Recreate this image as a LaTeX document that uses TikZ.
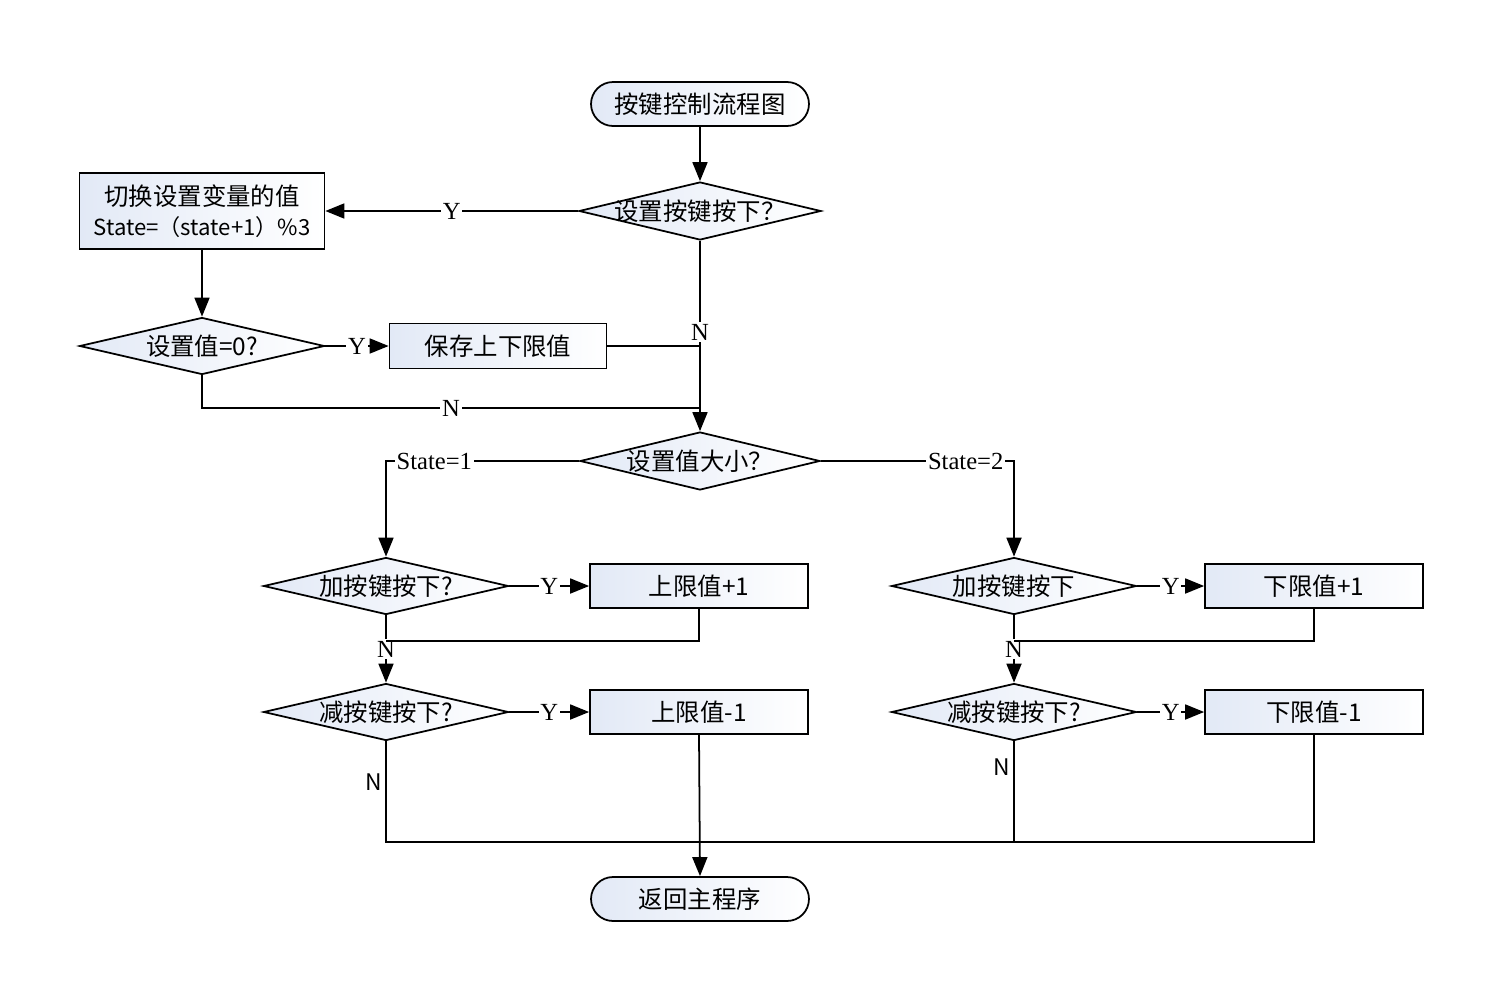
\documentclass[tikz,border=0pt]{standalone}
\usepackage{fontspec}
\setmainfont{Noto Sans CJK SC}
\newfontfamily\ynfont{Liberation Serif}
\usetikzlibrary{shapes.geometric,arrows.meta}
\definecolor{PaleBlue}{RGB}{226,233,246}
\newcommand{\cjksize}{\fontsize{13.9}{16}\selectfont}
\tikzset{
  flow/.style={draw=black,line width=1pt},
  arr/.style={flow,-{Triangle[length=3.8mm,width=3mm]}},
  term/.style={flow,rounded corners=0.44cm,left color=PaleBlue,right color=white,
    minimum width=4.36cm,minimum height=0.88cm,font=\cjksize},
  proc/.style={flow,left color=PaleBlue,right color=white,
    minimum width=4.36cm,minimum height=0.87cm,font=\cjksize},
  decide/.style={diamond,flow,left color=PaleBlue,right color=white,inner sep=0pt,
    minimum width=4.9cm,minimum height=1.14cm,label={[font=\cjksize]center:#1}},
  yn/.style={fill=white,inner sep=1pt,font=\ynfont\fontsize{14}{14}\selectfont},
  nlab/.style={inner sep=2pt,font=\fontsize{13}{13}\selectfont},
}

\begin{document}
\begin{tikzpicture}[x=0.02cm,y=-0.02cm]
\useasboundingbox (0,0) rectangle (1504,1004);
\node[term] (start) at (700,104) {按键控制流程图};
\node[decide={设置按键按下？},minimum width=4.84cm,minimum height=1.16cm] (d1) at (700,211) {};
\node[proc,minimum width=4.9cm,minimum height=1.52cm,align=center] (box1) at (202,211)
  {切换设置变量的值\\[1pt]{\fontsize{12.6}{14}\selectfont State=（state+1）\%3}};
\node[decide={设置值=0?}] (d2) at (202,346) {};
\node[proc,minimum width=4.34cm,minimum height=0.9cm] (box2) at (498,346) {保存上下限值};
\node[decide={设置值大小？},minimum width=4.8cm,minimum height=1.16cm] (d3) at (700,461) {};
\node[decide={加按键按下?}] (d4) at (386,586) {};
\node[proc] (box4) at (699,586) {上限值+1};
\node[decide={减按键按下?}] (d5) at (386,712) {};
\node[proc] (box5) at (699,712) {上限值-1};
\node[decide={加按键按下}] (d6) at (1014,586) {};
\node[proc] (box6) at (1314,586) {下限值+1};
\node[decide={减按键按下?}] (d7) at (1014,712) {};
\node[proc] (box7) at (1314,712) {下限值-1};
\node[term] (end) at (700,899) {返回主程序};
\coordinate (m2) at (700,408);
\coordinate (m4) at (386,641);
\coordinate (m6) at (1014,641);
\coordinate (mb) at (700,842);
\coordinate (mc) at (1014,842);

\draw[arr] (start) -- (d1);
\draw[arr] (d1.west) -- node[yn]{Y} (box1.east);
\draw[arr] (box1) -- (d2);
\draw[arr] (d2.east) -- node[yn]{Y} (box2.west);
\draw[arr] (d1.south) -- node[yn,pos=0.48]{N} (d3.north);
\draw[flow] (box2.east) -- (box2.east -| d3.north);
\draw[flow] (d2.south) |- node[yn,pos=0.75]{N} (m2);
\draw[arr] (d3.west) -| node[yn,pos=0.375]{State=1} (d4.north);
\draw[arr] (d3.east) -| node[yn,pos=0.375]{State=2} (d6.north);
\draw[arr] (d4.east) -- node[yn]{Y} (box4.west);
\draw[arr] (d4.south) -- node[yn]{N} (d5.north);
\draw[flow] (box4.south) |- (m4);
\draw[arr] (d5.east) -- node[yn]{Y} (box5.west);
\draw[arr] (d6.east) -- node[yn]{Y} (box6.west);
\draw[arr] (d6.south) -- node[yn]{N} (d7.north);
\draw[flow] (box6.south) |- (m6);
\draw[arr] (d7.east) -- node[yn]{Y} (box7.west);
\draw[flow] (d5.south) |- node[nlab,pos=0.2,left]{N} (mb);
\draw[flow] (d7.south) -- node[nlab,pos=0.26,left]{N} (mc);
\draw[flow] (box7.south) |- (mb);
\draw[arr] (box5.south) -- (end.north);
\end{tikzpicture}
\end{document}
